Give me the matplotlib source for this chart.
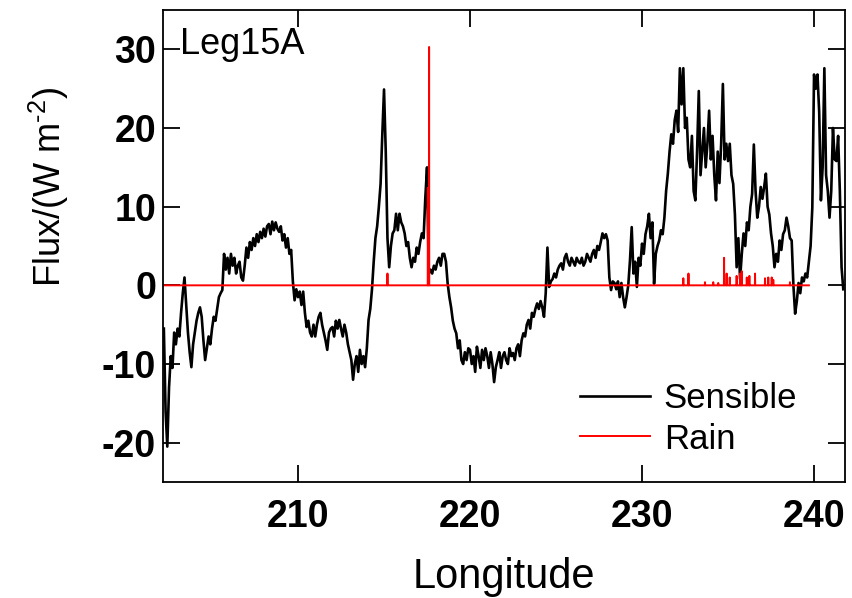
import numpy as np
import matplotlib.pyplot as plt

plt.rcParams['font.family'] = ['Liberation Sans', 'DejaVu Sans']
plt.rcParams['mathtext.fontset'] = 'custom'
plt.rcParams['mathtext.rm'] = 'Liberation Sans'
plt.rcParams['mathtext.it'] = 'Liberation Sans'
plt.rcParams['axes.unicode_minus'] = False

# sensible heat flux, sampled every 0.1 deg starting at 202.2
lon_start = 202.2
lon_step = 0.1
sensible = [
    -5.5, -16, -20.5, -13, -9, -10.5, -6, -7.5,                      # 202.2
    -5.5, -6.5, -3.5, -1.0, 1.0, -2.5, -6, -8.5, -10.4, -7.5,        # 203
    -6, -4.5, -3.5, -2.8, -4, -7, -9.5, -8, -6.5, -7.5,              # 204
    -5.5, -4, -4.5, -3, -1.5, -1, -0.6, 4, 2, 3.5,                   # 205
    1.5, 4, 2.5, 3.5, 1.5, 2.5, 3, 1.0, 0.6, 2.5,                    # 206
    4.8, 3.5, 5.5, 4.5, 6, 5, 6.5, 5.5, 6.8, 6,                      # 207
    7.2, 6.2, 7.5, 7.8, 6.5, 8.1, 7, 8, 7.2, 6.8,                    # 208
    7.5, 5.7, 6.5, 4.8, 6, 4, 4.5, 0.5, -1.9, -0.5,                  # 209
    -1.5, -0.8, -2.5, -0.8, -3.5, -5.3, -4.5, -6, -6.5, -5,          # 210
    -6.5, -5, -4, -3.5, -5, -6, -7, -8.2, -6, -5.5,                  # 211
    -5.3, -6.5, -4.5, -5.5, -4.4, -5.5, -6.5, -5, -6, -7.5,          # 212
    -8.5, -9.5, -12, -10, -9, -11, -8.2, -10, -9, -10.4,             # 213
    -8, -4.4, -3, -0.5, 3, 6, 7.5, 10, 12.9, 19.2,                   # 214
    24.9, 17, 6, 2.3, 5, 6.6, 7, 9.1, 7, 9.1,                        # 215
    8, 7.5, 6.6, 5, 5.5, 3.5, 2.3, 3.5, 3, 4.8,                      # 216
    4, 5.5, 6.6, 6, 11.1, 15, 1.5, 2, 1.5, 2.5,                      # 217
    2, 3, 3.5, 2.5, 4, 4, 3, 0.2, -1.5, -2.8,                        # 218
    -4.5, -5.5, -6.1, -8, -7, -9.5, -10, -8.5, -9.5, -8,             # 219
    -8.2, -10, -9, -11, -7.8, -9, -10.5, -8.2, -9.5, -8,             # 220
    -9, -10.5, -8.5, -10, -12.3, -10.4, -9.5, -8.5, -10.5, -9,       # 221
    -8.5, -9.5, -10, -8, -9, -8.6, -9.5, -8, -7.5, -9,               # 222
    -7, -6.1, -6.5, -5, -4.4, -5.5, -3.5, -4, -3, -2.3,              # 223
    -3, -2, -2.8, -4, -1, 4.8, -0.2, 0.5, 0.8, 1.5,                  # 224
    1, 2, 2.5, 2.8, 2, 3.5, 4, 3, 2.5, 3.5,                          # 225
    3, 2.5, 3.5, 3, 2.8, 3.5, 2.5, 3, 4, 3.5,                        # 226
    3, 4, 4.5, 3.5, 5, 4.5, 5.5, 6.6, 6, 6.5,                        # 227
    5.7, 1.0, -0.6, 0.5, 0.3, -0.5, 0.5, -1.5, 0.3, -1.5,            # 228
    -2.8, -1.5, 0, 3.2, 7.4, 1.5, 3, -0.2, 3.5, 2.5,                 # 229
    5.3, 4, 6.5, 7.5, 9.1, 6, 8, 0.2, 4, 5,                          # 230
    5.7, 7, 6.5, 8.6, 12, 14.2, 17, 19.2, 18, 21,                    # 231
    22.2, 19.5, 27.6, 23, 27.6, 20, 21.3, 16, 15, 19,                # 232
    12, 10.8, 17, 24.7, 14, 17.1, 20, 15, 18, 22.2,                  # 233
    16, 19, 14, 10.8, 17, 13, 18, 25.6, 16, 18,                      # 234
    15.8, 18, 14, 12.9, 9, 2.3, 6, 0.8, 4, 6.6,                      # 235
    5, 8, 7, 10, 11.6, 17.9, 12, 8.6, 10, 12.5,                      # 236
    11, 12.5, 14.2, 10, 9, 6.6, 5, 2.3, 4, 3,                        # 237
    5.7, 4.5, 6.5, 7, 8.6, 7.5, 6, 5.7, 0, -3.6,                     # 238
    -2, 0.3, -1, 1, 0.5, 1.5, 1, 3, 5, 9.9,                          # 239
    26.8, 25, 26.8, 22, 10.8, 15, 27.6, 14, 12, 8.6,                 # 240
    12, 20, 16, 15.8, 19, 12, 2.3, -0.5,                             # 241
]
lon = lon_start + lon_step * np.arange(len(sensible))

# rain flux: baseline at zero with spikes
rain_start, rain_end = 202.15, 239.7
rain_spike_lon = [215.2, 217.55, 217.62, 232.4, 232.7, 233.66, 234.14, 234.43,
                  234.77, 234.92, 235.1, 235.5, 235.7, 235.8, 236.09, 236.24,
                  236.57, 237.15, 237.34, 237.54, 237.63, 238.6]
rain_spike_val = [1.5, 12.4, 30.3, 0.9, 1.5, 0.4, 0.4, 0.3,
                  3.5, 1.5, 1.0, 1.2, 1.5, 1.8, 1.0, 1.2,
                  1.5, 0.9, 1.0, 1.0, 0.7, 0.4]

rx = [rain_start]
ry = [0.0]
for x, v in zip(rain_spike_lon, rain_spike_val):
    rx += [x - 0.01, x, x + 0.01]
    ry += [0.0, v, 0.0]
rx.append(rain_end)
ry.append(0.0)

fig = plt.figure(figsize=(8.52, 5.98), dpi=100)
ax = fig.add_axes([163 / 852, 1 - 482 / 598, 682 / 852, 472 / 598])

ax.plot(lon, sensible, color='black', lw=1.9, label='Sensible')
ax.plot(rx, ry, color='red', lw=1.4, label='Rain')

ax.set_xlim(202.15, 241.8)
ax.set_ylim(-25, 35)
ax.set_xticks([210, 220, 230, 240])
ax.set_yticks([-20, -10, 0, 10, 20, 30])

ax.tick_params(direction='in', length=12, width=1.3, top=True, right=True,
               labelsize=27)
ax.tick_params(axis='x', pad=12)
ax.tick_params(axis='y', pad=5)
for lab in ax.get_xticklabels() + ax.get_yticklabels():
    lab.set_fontweight('bold')
for s in ax.spines.values():
    s.set_linewidth(1.3)

ax.set_xlabel('Longitude', fontsize=30, labelpad=16)
ax.set_ylabel(r'Flux/(W m$^{\text{-2}}$)', fontsize=26)
ax.yaxis.set_label_coords(-0.135, 0.625)

ax.text(0.025, 0.965, 'Leg15A', transform=ax.transAxes, fontsize=26,
        va='top', ha='left')

ax.legend(loc='upper left', bbox_to_anchor=(0.612, 0.212), frameon=False,
          fontsize=25, handlelength=2.0, handletextpad=0.4, labelspacing=0.22,
          borderpad=0, borderaxespad=0)

fig.savefig('out.png', dpi=100)
